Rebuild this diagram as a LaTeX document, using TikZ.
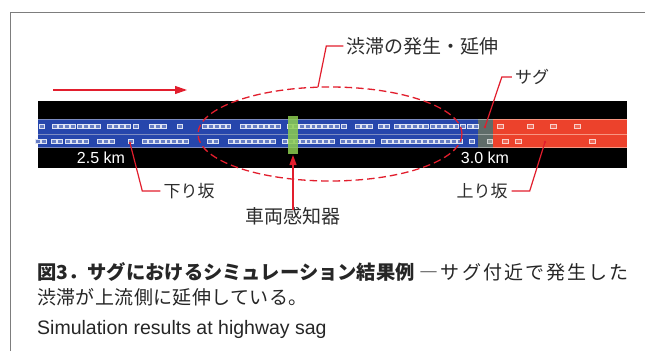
\documentclass[tikz,border=0pt]{standalone}
\usepackage{fontspec}
\setmainfont{Liberation Sans}
\newfontfamily\jp{Noto Sans CJK JP}
\newfontfamily\jpwide[LetterSpace=11]{Noto Sans CJK JP}
\newfontfamily\jpmid[LetterSpace=2]{Noto Sans CJK JP}
\usetikzlibrary{arrows.meta}

\definecolor{laneblue}{RGB}{38,70,172}
\definecolor{laneblueedge}{RGB}{125,140,195}
\definecolor{lanered}{RGB}{236,66,44}
\definecolor{laneredge}{RGB}{248,150,130}
\definecolor{lanegray}{RGB}{95,108,105}
\definecolor{sensorgreen}{RGB}{140,205,80}
\definecolor{callred}{RGB}{226,30,45}
\definecolor{framegray}{RGB}{125,125,125}
\definecolor{labeltext}{RGB}{45,45,45}

\tikzset{
  leader/.style={draw=callred, line width=1.2pt},
  enddot/.style={fill=callred, draw=none},
  jplabel/.style={font=\jp\fontsize{18}{20}\selectfont, text=labeltext, inner sep=0pt},
  kmtext/.style={font=\fontsize{16}{18}\selectfont, text=white, inner sep=0pt},
  bluecar/.style={draw=white!85!laneblue, fill=laneblue!70!white, line width=0.6pt},
  redcar/.style={draw=white!75!lanered, fill=lanered!80!white, line width=0.6pt},
  lanesep/.style={line width=0.8pt},
  captext/.style={font=\jp\fontsize{19}{23}\selectfont, text=black!85, inner sep=0pt, anchor=base west},
  tipR/.style={-{Triangle[length=12pt,width=8pt]}},
}

\begin{document}
\begin{tikzpicture}[x=1pt, y=-1pt]
\useasboundingbox (0,0) rectangle (645,351);
\fill[white] (0,0) rectangle (645,351);

% frame
\draw[framegray, line width=0.9pt] (10,351) -- (10,12) -- (645,12);

% road strip
\fill[black] (38,101) rectangle (627,168);
\fill[laneblue] (38,119) rectangle (478,148);
\fill[lanegray] (478,119) rectangle (493,148);
\fill[lanered] (493,119) rectangle (627,148);
\foreach \yy in {119.6,134,147.4}{
  \draw[lanesep, laneblueedge] (38,\yy) -- (478,\yy);
  \draw[lanesep, lanegray!60!white] (478,\yy) -- (493,\yy);
  \draw[lanesep, laneredge] (493,\yy) -- (627,\yy);
}

% cars, upper lane
\foreach \a/\n in {42/1,55/4,80/4,110/4,136/1,152/3,180/1,205/5,243/7,290/9,344/1,358/3,381/2,397/6,433/5,463/1,470/2}{
  \foreach \i in {1,...,\n}{
    \pgfmathsetmacro\xx{\a+(\i-1)*5.8}
    \draw[bluecar] (\xx-2.4,124.4) rectangle (\xx+2.4,128.2);
  }
}
% cars, lower lane
\foreach \a/\n in {38/2,54/2,68/4,100/3,131/1,145/8,210/2,231/3,249/4,273/1,285/8,332/1,343/6,384/14,472/1}{
  \foreach \i in {1,...,\n}{
    \pgfmathsetmacro\xx{\a+(\i-1)*5.8}
    \draw[bluecar] (\xx-2.4,139.2) rectangle (\xx+2.4,143);
  }
}
\draw[draw=white!70!lanegray, fill=lanegray!70!white, line width=0.6pt] (487.5,139.4) rectangle (492.5,142.8);
\foreach \xx in {500,530,553,577}{
  \draw[redcar] (\xx-3,124.4) rectangle (\xx+3,128);
}
\foreach \xx in {505,518,592}{
  \draw[redcar] (\xx-3,139.4) rectangle (\xx+3,143);
}

% vehicle sensor
\fill[sensorgreen, opacity=0.85] (288,116) rectangle (298,154);
\coordinate (sensorBot) at (293,155);

% km labels
\node[kmtext] (km25) at (101,158) {2.5 km};
\node[kmtext] (km30) at (485,158) {3.0 km};

% direction arrow
\coordinate (dirA) at (53,90);
\coordinate (dirB) at (187,90);
\draw[callred, line width=1.2pt, tipR] (dirA) -- (dirB);

% congestion ellipse
\draw[callred, dash pattern=on 7.5pt off 4pt, line width=1.3pt] (330,134) ellipse [x radius=132pt, y radius=47pt];

% labels
\node[jplabel, font=\jp\fontsize{19}{21}\selectfont] (jam) at (422.5,46) {渋滞の発生・延伸};
\node[jplabel, font=\jp\fontsize{17}{19}\selectfont] (sag) at (532,77) {サグ};
\node[jplabel, font=\jp\fontsize{17}{19}\selectfont] (down) at (189,191) {下り坂};
\node[jplabel, font=\jp\fontsize{17}{19}\selectfont] (up) at (482,191) {上り坂};
\node[jplabel, font=\jp\fontsize{19}{21}\selectfont] (sensor) at (293,216) {車両感知器};

\coordinate (pJam) at (318,87);
\coordinate (pSag) at (485,127);
\coordinate (pDown) at (130,143);
\coordinate (pUp) at (545,142);

\draw[leader] ([xshift=-3pt]jam.west) -- ++(-17,0) -- (pJam);
\draw[leader] ([xshift=-3pt]sag.west) -- ++(-10,0) -- (pSag);
\fill[enddot] (pSag) circle (1.4pt);
\draw[leader] ([xshift=-3pt]down.west) -- ++(-18,0) -- (pDown);
\fill[enddot] (pDown) circle (1.4pt);
\draw[leader] ([xshift=4pt]up.east) -- ++(18,0) -- (pUp);
\fill[enddot] (pUp) circle (1.4pt);
\draw[callred, line width=1.2pt, -{Triangle[length=10pt,width=7pt]}] ([yshift=-3pt]sensor.north) -- (sensorBot);

% caption
\node[captext] (cap1) at (37,279) {{\fontsize{19.3}{23}\selectfont\bfseries 図3．サグにおけるシミュレーション結果例}\hspace{5pt}{\jpwide ―サグ付近で発生した}};
\node[captext, font=\jpmid\fontsize{19}{23}\selectfont] (cap2) at (37,304) {渋滞が上流側に延伸している。};
\node[captext, font=\fontsize{19.5}{23}\selectfont] (cap3) at (37,334) {Simulation results at highway sag};
\end{tikzpicture}
\end{document}
